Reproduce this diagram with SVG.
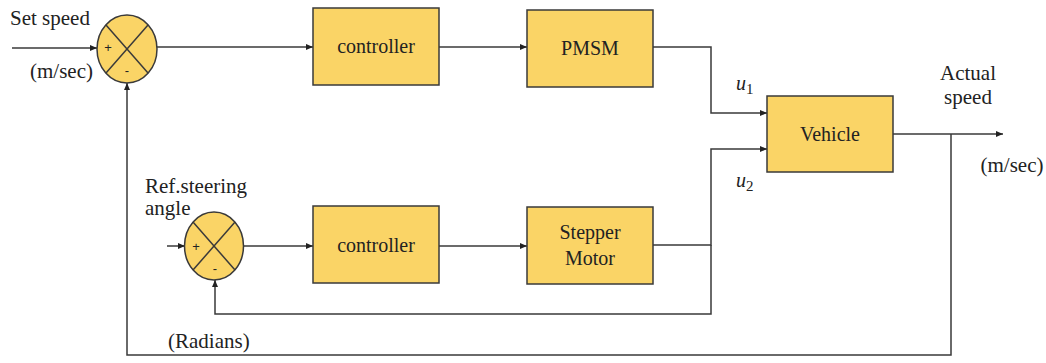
<svg xmlns="http://www.w3.org/2000/svg" width="1046" height="363" viewBox="0 0 1046 363">
<style>
.blk{fill:#FAD466;stroke:#3a3a3a;stroke-width:1.5}
.ln{fill:none;stroke:#3a3a3a;stroke-width:1.5}
.t{font-family:"Liberation Serif",serif;fill:#222;font-size:21px}
.lb{font-family:"Liberation Serif",serif;fill:#222;font-size:20px;text-anchor:middle}
.s{font-family:"Liberation Sans",sans-serif;fill:#222;font-size:13px;text-anchor:middle}
.m{font-family:"Liberation Serif",serif;font-style:italic;fill:#222;font-size:20px}
</style>
<defs>
<marker id="a" markerWidth="8" markerHeight="8" refX="7" refY="4" orient="auto" markerUnits="userSpaceOnUse">
<path d="M0,1 L7,4 L0,7 Z" fill="#222"/>
</marker>
</defs>
<rect width="1046" height="363" fill="#fff"/>
<g id="connectors">
<line class="ln" x1="12" y1="48" x2="97" y2="48" marker-end="url(#a)"/>
<line class="ln" x1="157" y1="47" x2="313" y2="47" marker-end="url(#a)"/>
<line class="ln" x1="439" y1="47" x2="527" y2="47" marker-end="url(#a)"/>
<polyline class="ln" points="653,47 711,47 711,113 767,113" marker-end="url(#a)"/>
<polyline class="ln" points="653,245 711,245 711,149 767,149" marker-end="url(#a)"/>
<line class="ln" x1="893" y1="134" x2="1003" y2="134" marker-end="url(#a)"/>
<polyline class="ln" points="951,134 951,355 127,355 127,83" marker-end="url(#a)"/>
<line class="ln" x1="167" y1="246" x2="185" y2="246" marker-end="url(#a)"/>
<line class="ln" x1="244" y1="246" x2="313" y2="246" marker-end="url(#a)"/>
<line class="ln" x1="439" y1="246" x2="527" y2="246" marker-end="url(#a)"/>
<polyline class="ln" points="711,245 711,314 215,314 215,280" marker-end="url(#a)"/>
</g>
<g id="sum1">
<ellipse class="blk" cx="127" cy="49" rx="30" ry="34"/>
<line class="ln" x1="106" y1="25" x2="148" y2="73"/>
<line class="ln" x1="148" y1="25" x2="106" y2="73"/>
<text class="s" x="108" y="52">+</text>
<text class="s" x="127" y="75">-</text>
</g>
<g id="sum2">
<ellipse class="blk" cx="214" cy="246" rx="29.5" ry="34"/>
<line class="ln" x1="193" y1="222" x2="235" y2="270"/>
<line class="ln" x1="235" y1="222" x2="193" y2="270"/>
<text class="s" x="196" y="251">+</text>
<text class="s" x="215" y="273">-</text>
</g>
<g id="controller1">
<rect class="blk" x="313" y="8" width="126" height="77"/>
<text class="lb" x="376" y="53">controller</text>
</g>
<g id="pmsm">
<rect class="blk" x="527" y="10" width="126" height="77"/>
<text class="lb" x="590" y="55">PMSM</text>
</g>
<g id="vehicle">
<rect class="blk" x="767" y="96" width="126" height="76"/>
<text class="lb" x="830" y="141">Vehicle</text>
</g>
<g id="controller2">
<rect class="blk" x="313" y="206" width="126" height="77"/>
<text class="lb" x="376" y="252">controller</text>
</g>
<g id="stepper">
<rect class="blk" x="527" y="207" width="126" height="77"/>
<text class="lb" x="590" y="239">Stepper</text>
<text class="lb" x="590" y="265">Motor</text>
</g>
<g id="labels">
<text class="t" x="10" y="25">Set speed</text>
<text class="t" x="93" y="78" text-anchor="end">(m/sec)</text>
<text class="t" x="145" y="193" font-size="18">Ref.steering</text>
<text class="t" x="145" y="215" font-size="18">angle</text>
<text class="t" x="168" y="348">(Radians)</text>
<text class="t" x="968" y="80" text-anchor="middle" font-size="18">Actual</text>
<text class="t" x="968" y="104" text-anchor="middle" font-size="18">speed</text>
<text class="t" x="1012" y="172" text-anchor="middle">(m/sec)</text>
<text class="m" x="736" y="90">u<tspan font-style="normal" font-size="15" dy="4">1</tspan></text>
<text class="m" x="736" y="187">u<tspan font-style="normal" font-size="15" dy="4">2</tspan></text>
</g>
</svg>
